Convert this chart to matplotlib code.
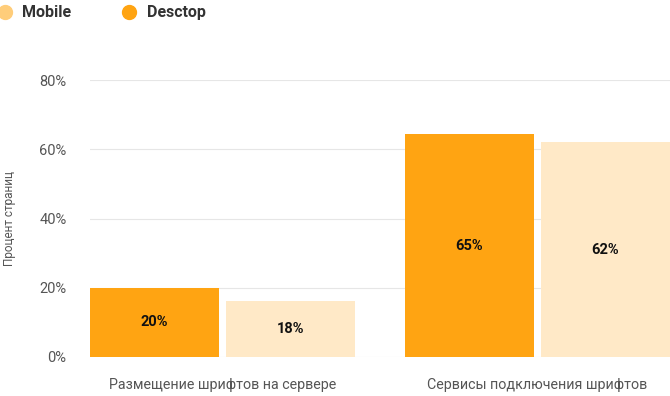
import numpy as np
import matplotlib
matplotlib.use("Agg")
import matplotlib.pyplot as plt
from matplotlib.lines import Line2D

# data
categories = ["Размещение шрифтов на сервере", "Сервисы подключения шрифтов"]
desktop = [20, 64.3]
mobile = [16.3, 62]
desktop_labels = ["20%", "65%"]
mobile_labels = ["18%", "62%"]
yticks = [0, 20, 40, 60, 80]

C_DESK = "#FFA412"
C_MOB = "#FFE9C7"
C_MOB_LEG = "#FFCD7A"
C_TEXT = "#555555"

plt.rcParams["font.family"] = ["Roboto", "DejaVu Sans"]

fig = plt.figure(figsize=(6.7, 3.96), dpi=100)
ax = fig.add_axes([90 / 670, 39 / 396, 580 / 670, 277 / 396])

x = np.arange(len(categories))
w = 0.4095
off = 0.2159

b1 = ax.bar(x - off, desktop, width=w, color=C_DESK, zorder=3)
b2 = ax.bar(x + off, mobile, width=w, color=C_MOB, zorder=3)

for rect, lab in zip(b1, desktop_labels):
    ax.text(rect.get_x() + rect.get_width() / 2, rect.get_height() / 2, lab,
            ha="center", va="center", fontsize=10.5, fontweight="bold", color="#111111", zorder=4)
for rect, lab in zip(b2, mobile_labels):
    ax.text(rect.get_x() + rect.get_width() / 2, rect.get_height() / 2, lab,
            ha="center", va="center", fontsize=10.5, fontweight="bold", color="#111111", zorder=4)

ax.set_xlim(-0.4206, 1.4206)
ax.set_ylim(0, 80)
ax.set_yticks(yticks)
ax.set_yticklabels([f"{t}%" for t in yticks])
ax.set_xticks(x)
ax.set_xticklabels(categories)
ax.tick_params(axis="y", length=0, pad=17, labelsize=10.5, labelcolor=C_TEXT)
ax.tick_params(axis="x", length=0, pad=15, labelsize=10.3, labelcolor=C_TEXT)
ax.grid(axis="y", color="#e6e6e6", lw=0.8, zorder=0)
ax.set_axisbelow(True)
for s in ax.spines.values():
    s.set_visible(False)

ax.set_ylabel("Процент страниц", fontsize=8.5, color=C_TEXT)
ax.yaxis.set_label_coords(-0.128, 0.5)

handles = [
    Line2D([], [], marker="o", ls="", ms=10, color=C_MOB_LEG, label="Mobile"),
    Line2D([], [], marker="o", ls="", ms=10, color=C_DESK, label="Desctop"),
]
leg = fig.legend(handles=handles, loc="upper left", bbox_to_anchor=(-0.038, 1.023),
                 ncol=2, frameon=False, handletextpad=0.1, columnspacing=2.6,
                 prop={"weight": "bold", "size": 11.5})
for t in leg.get_texts():
    t.set_color("#333333")

fig.savefig("out.png", dpi=100)
